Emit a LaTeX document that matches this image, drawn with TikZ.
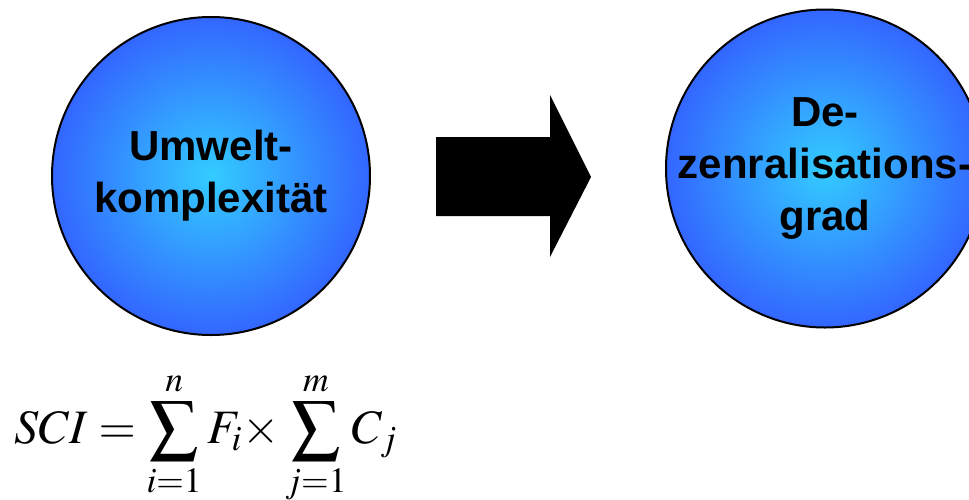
\documentclass[tikz,border=0pt]{standalone}
\usepackage{mathptmx}
\usepackage{fontspec}
\setsansfont{Liberation Sans}
\usepackage{color}
\usepackage{tikz}
\usetikzlibrary{positioning}
\definecolor{kernblau}{RGB}{51,204,255}
\definecolor{randblau}{RGB}{51,102,255}

\begin{document}
\begin{tikzpicture}[x=0.5pt, y=-0.5pt, node distance={147pt},
        main/.style = {draw, circle, line width=1pt, minimum size=159pt, inner sep=0pt,
                       shading=radial, inner color=kernblau, outer color=randblau},
        beschrift/.style = {align=center, font=\sffamily\bfseries\fontsize{21}{26}\selectfont}]
            \clip (0,0) rectangle (969,499);
            \useasboundingbox (0,0) rectangle (969,499);

            \node[main, label={[beschrift]center:Umwelt-\\komplexität}] (umwelt) at (211,176) {};
            \node[main, label={[beschrift]center:De-\\zenralisations-\\grad}] (dezentral) [right=of umwelt, yshift=3.75pt] {};

            % Blockpfeil zwischen den Kreisen
            \fill[black] (436,137) -- (550,137) -- (550,95) -- (591,177)
                -- (550,257) -- (550,216) -- (436,216) -- cycle;

            \node[anchor=base west, inner sep=0pt, font=\fontsize{24}{28}\selectfont] (sci) at (14,443)
                {$\displaystyle SCI = \sum_{i=1}^{n} F_i {\times} \sum_{j=1}^{m} C_j$};
        \end{tikzpicture}
\end{document}
